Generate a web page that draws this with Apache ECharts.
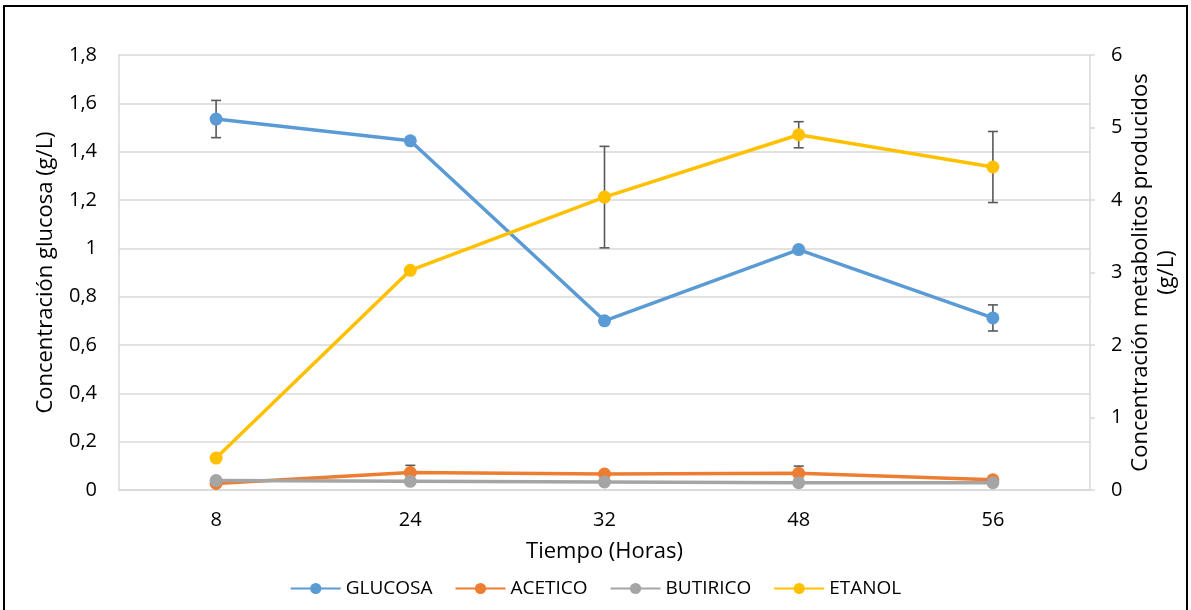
<!DOCTYPE html>
<html><head><meta charset="utf-8">
<script src="https://cdn.jsdelivr.net/npm/echarts@6/dist/echarts.min.js"></script>
<style>html,body{margin:0;padding:0;background:#fff}#c{width:1191px;height:610px}</style>
</head><body><div id="c"></div>
<script>
const categories = ['8', '24', '32', '48', '56'];
const glucosa = [1.535, 1.445, 0.70, 0.995, 0.712];
const glucosaErr = [0.077, 0, 0, 0, 0.054];
const acetico = [0.09, 0.24, 0.22, 0.23, 0.14];
const aceticoErr = [0, 0.1, 0, 0.1, 0];
const butirico = [0.13, 0.12, 0.11, 0.10, 0.10];
const etanol = [0.44, 3.03, 4.04, 4.90, 4.455];
const etanolErr = [0, 0, 0.70, 0.18, 0.49];
const leftTicks = {min: 0, max: 1.8, interval: 0.2};
const rightTicks = {min: 0, max: 6, interval: 1};

const FONT = 'Open Sans';
const chart = echarts.init(document.getElementById('c'), null, {renderer: 'canvas'});

function errData(vals, errs) {
  const out = [];
  vals.forEach((v, i) => { if (errs[i] > 0) out.push([i, v - errs[i], v + errs[i]]); });
  return out;
}
function errSeries(vals, errs, yAxisIndex) {
  return {
    type: 'custom', yAxisIndex: yAxisIndex, z: 1, silent: true,
    data: errData(vals, errs),
    renderItem: function (params, api) {
      const x = api.value(0);
      const lo = api.coord([x, api.value(1)]);
      const hi = api.coord([x, api.value(2)]);
      const w = 5;
      const st = {stroke: '#595959', lineWidth: 1.6};
      return {type: 'group', children: [
        {type: 'line', shape: {x1: lo[0], y1: lo[1], x2: hi[0], y2: hi[1]}, style: st},
        {type: 'line', shape: {x1: lo[0] - w, y1: lo[1], x2: lo[0] + w, y2: lo[1]}, style: st},
        {type: 'line', shape: {x1: hi[0] - w, y1: hi[1], x2: hi[0] + w, y2: hi[1]}, style: st}
      ]};
    }
  };
}
function lineSeries(name, data, color, yAxisIndex, z) {
  return {
    name: name, type: 'line', yAxisIndex: yAxisIndex, data: data, z: z,
    symbol: 'circle', symbolSize: 13,
    lineStyle: {width: 3.5, color: color},
    itemStyle: {color: color},
    emphasis: {disabled: true}
  };
}
const fmt = v => String(Math.round(v * 10) / 10).replace('.', ',');

chart.setOption({
  animation: false,
  textStyle: {fontFamily: FONT, color: '#000'},
  graphic: [{type: 'rect', shape: {x: 4, y: 6, width: 1183, height: 620}, style: {fill: 'none', stroke: '#000', lineWidth: 2}, z: 100}],
  grid: {left: 119, right: 101, top: 55, bottom: 120, containLabel: false, outerBoundsMode: 'none'},
  legend: {
    bottom: 7, left: 'center', itemWidth: 50, itemHeight: 14, itemGap: 22,
    textStyle: {fontFamily: FONT, fontSize: 19, color: '#000'},
    data: ['GLUCOSA', 'ACETICO', 'BUTIRICO', 'ETANOL']
  },
  xAxis: {
    type: 'category', data: categories, boundaryGap: true,
    name: 'Tiempo (Horas)', nameLocation: 'middle', nameGap: 51, nameMoveOverlap: false,
    nameTextStyle: {fontFamily: FONT, fontSize: 22, color: '#000'},
    axisLine: {lineStyle: {color: '#d9d9d9', width: 1.5}},
    axisTick: {show: false},
    axisLabel: {fontFamily: FONT, fontSize: 20, color: '#000', margin: 20}
  },
  yAxis: [{
    type: 'value', min: leftTicks.min, max: leftTicks.max, interval: leftTicks.interval,
    name: 'Concentración glucosa (g/L)', nameLocation: 'middle', nameGap: 62, nameRotate: 90, nameMoveOverlap: false,
    nameTextStyle: {fontFamily: FONT, fontSize: 22, color: '#000'},
    axisLine: {show: true, lineStyle: {color: '#d9d9d9', width: 1.5}},
    axisTick: {show: false},
    splitLine: {lineStyle: {color: '#d9d9d9', width: 1.5}},
    axisLabel: {fontFamily: FONT, fontSize: 20, color: '#000', margin: 22, formatter: fmt}
  }, {
    type: 'value', position: 'right', min: rightTicks.min, max: rightTicks.max, interval: rightTicks.interval,
    name: 'Concentración metabolitos producidos\n(g/L)', nameLocation: 'middle', nameGap: 38, nameRotate: 90, nameMoveOverlap: false,
    nameTextStyle: {fontFamily: FONT, fontSize: 22, color: '#000', lineHeight: 26},
    axisLine: {show: true, lineStyle: {color: '#d9d9d9', width: 1.5}},
    axisTick: {show: true, inside: false, length: 5, lineStyle: {color: '#d9d9d9', width: 1.5}},
    splitLine: {show: false},
    axisLabel: {fontFamily: FONT, fontSize: 20, color: '#000', margin: 21, formatter: fmt}
  }],
  series: [
    lineSeries('GLUCOSA', glucosa, '#5b9bd5', 0, 2),
    lineSeries('ACETICO', acetico, '#ed7d31', 1, 3),
    lineSeries('BUTIRICO', butirico, '#a5a5a5', 1, 4),
    lineSeries('ETANOL', etanol, '#ffc000', 1, 5),
    errSeries(glucosa, glucosaErr, 0),
    errSeries(acetico, aceticoErr, 1),
    errSeries(etanol, etanolErr, 1)
  ]
});
</script></body></html>
